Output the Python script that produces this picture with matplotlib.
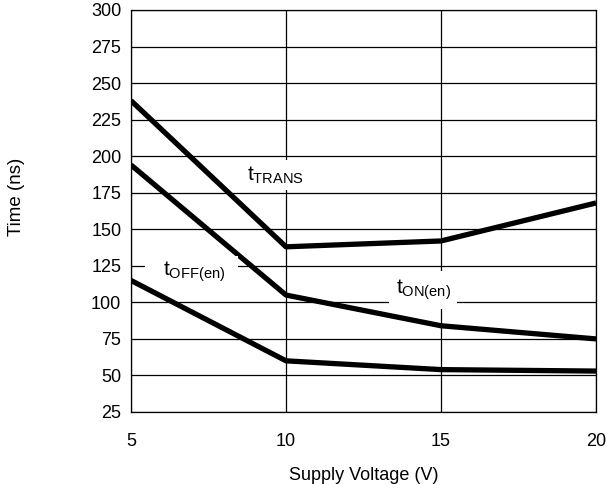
import matplotlib
matplotlib.use('Agg')
import matplotlib.pyplot as plt
from matplotlib.patches import Rectangle

plt.rcParams['font.family'] = 'Liberation Sans'
plt.rcParams['mathtext.fontset'] = 'custom'
plt.rcParams['mathtext.rm'] = 'Liberation Sans'
plt.rcParams['mathtext.it'] = 'Liberation Sans'

# data
vdd = [5, 10, 15, 20]
t_trans = [238, 138, 142, 168]
t_on_en = [194, 105, 84, 75]
t_off_en = [115, 60, 54, 53]

xticks = [5, 10, 15, 20]
yticks = list(range(25, 301, 25))

fig = plt.figure(figsize=(6.06, 4.84), dpi=100)
ax = fig.add_axes([131/606, 1 - 412/484, (596-131)/606, (412-10)/484])

for y in [t_trans, t_on_en, t_off_en]:
    ax.plot(vdd, y, color='black', lw=3.8, solid_capstyle='butt', zorder=3)

ax.set_xlim(5, 20)
ax.set_ylim(25, 300)
ax.set_xticks(xticks)
ax.set_yticks(yticks)
ax.grid(True, color='black', lw=0.9)
ax.tick_params(length=0, labelsize=13)
ax.tick_params(axis='x', pad=15)
ax.tick_params(axis='y', pad=7)
for s in ax.spines.values():
    s.set_linewidth(0.9)

# white patch behind the t_OFF(en) label (cuts grid and a notch of the middle curve)
ax.add_patch(Rectangle((5.45, 115.5), 3.0, 16.5, facecolor='white', edgecolor='none', zorder=3.5))

ax.text(9.66, 187, r'$\mathrm{t_{TRANS}}$', fontsize=15, ha='center', va='center',
        bbox=dict(facecolor='white', edgecolor='none', pad=3), zorder=4)
ax.text(7.03, 121, r'$\mathrm{t_{OFF(en)}}$', fontsize=15, ha='center', va='center', zorder=4)
ax.text(14.42, 108.5, r'$\mathrm{t_{ON(en)}}$', fontsize=15, ha='center', va='center',
        bbox=dict(facecolor='white', edgecolor='none', pad=5), zorder=4)

ax.set_xlabel('Supply Voltage (V)', fontsize=13, labelpad=12)
ax.set_ylabel('Time (ns)', fontsize=13.5)
ax.yaxis.set_label_coords(-0.228, 0.535)

fig.savefig('out.png', dpi=100)
